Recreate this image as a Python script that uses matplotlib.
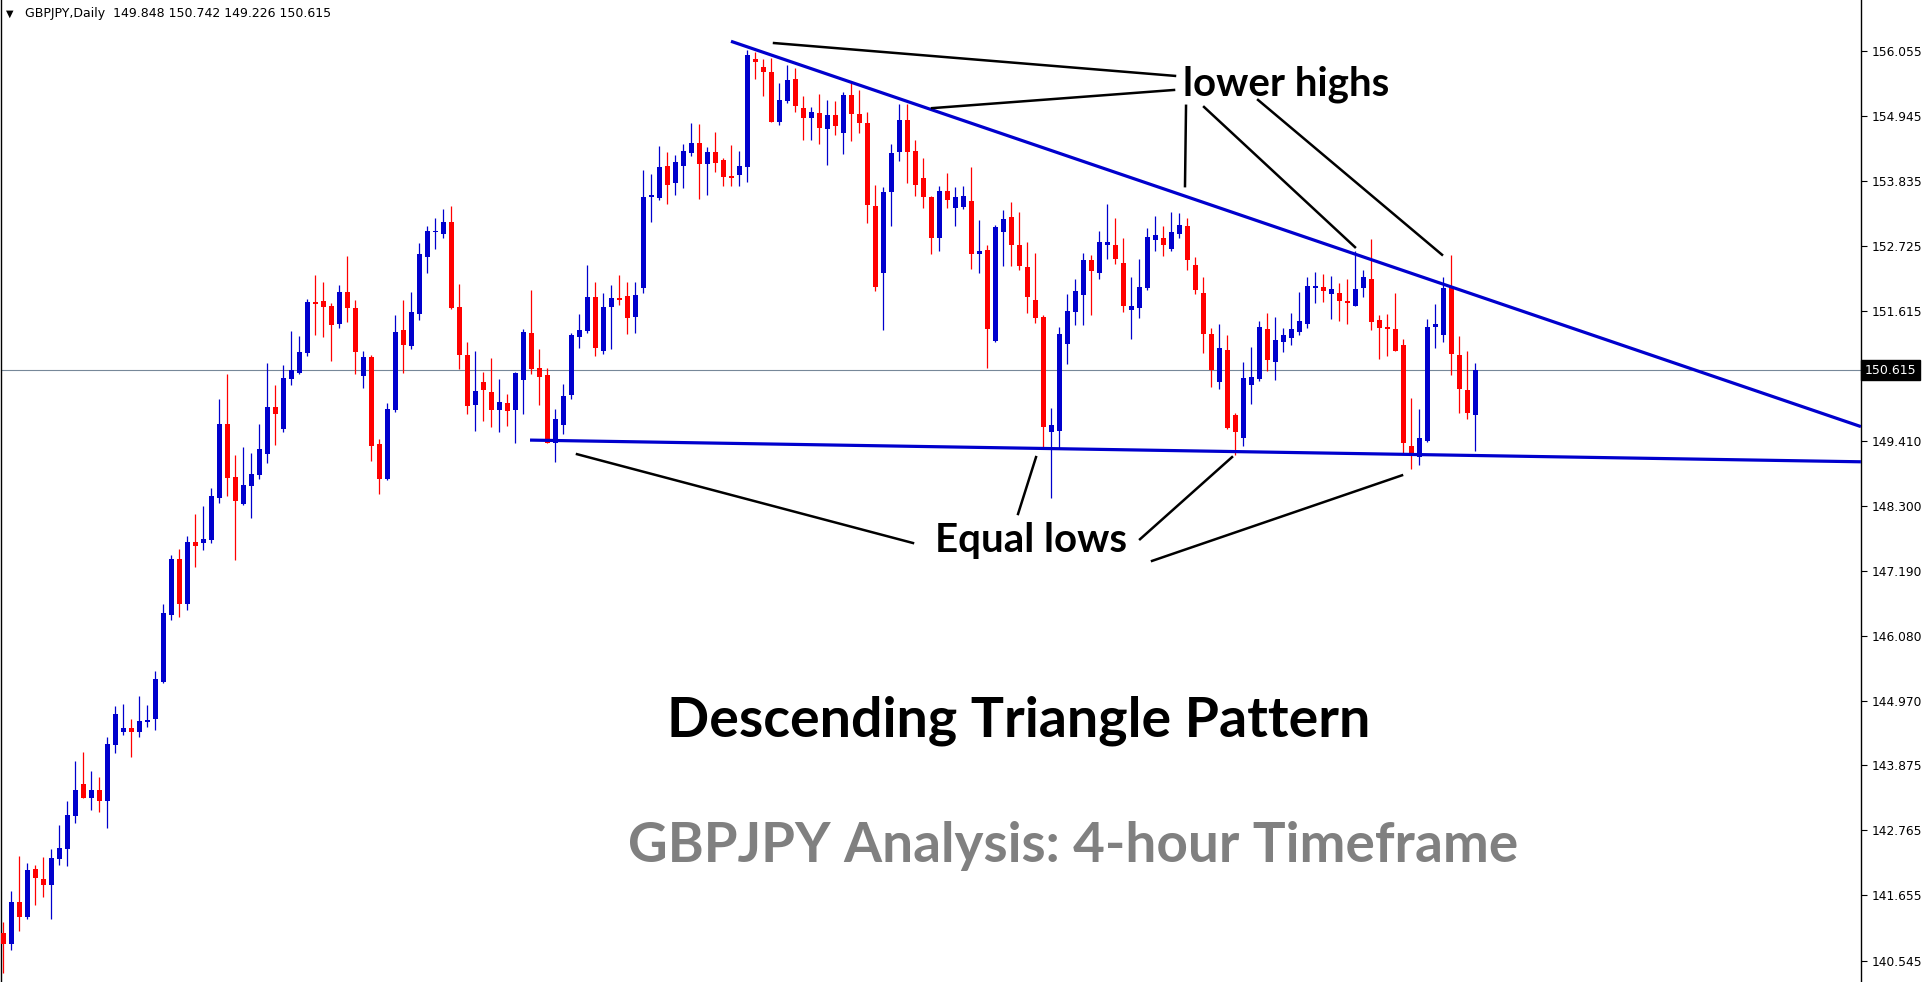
import matplotlib

matplotlib.use("Agg")

import matplotlib.pyplot as plt
import matplotlib.transforms as mtransforms
import numpy as np

# GBPJPY daily candles (oldest first)
opens = [
    141.01, 140.83, 141.54, 141.29, 142.10, 141.93, 141.84, 142.28, 142.44, 143.01,
    143.55, 143.32, 143.45, 143.27, 144.22, 144.45, 144.51, 144.45, 144.62, 144.67,
    145.29, 146.44, 147.39, 146.63, 147.68, 147.66, 147.72, 148.44, 149.69, 148.79,
    148.33, 148.64, 148.82, 149.18, 149.98, 149.61, 150.46, 150.56, 150.90, 151.78,
    151.79, 151.71, 151.40, 151.95, 151.67, 150.51, 150.84, 149.35, 148.76, 149.93,
    151.30, 151.02, 151.57, 152.54, 152.97, 152.93, 153.14, 151.69, 150.87, 150.02,
    150.41, 150.24, 149.93, 150.05, 149.93, 150.44, 151.24, 150.65, 150.53, 149.37,
    149.68, 150.19, 151.18, 151.28, 151.86, 150.94, 151.69, 151.84, 151.88, 151.52,
    152.01, 153.57, 153.55, 154.09, 153.80, 154.09, 154.31, 154.49, 154.13, 154.33,
    154.20, 153.92, 153.94, 154.08, 155.92, 155.78, 155.70, 154.84, 155.20, 155.58,
    155.08, 154.91, 154.99, 154.72, 154.96, 154.66, 155.30, 154.98, 154.83, 153.41,
    152.27, 153.65, 154.33, 154.88, 154.35, 153.89, 153.565, 152.87, 153.67, 153.38,
    153.39, 153.50, 152.59, 152.66, 151.11, 152.97, 153.22, 152.75, 152.37, 151.81,
    151.52, 149.55, 149.58, 151.06, 151.60, 151.89, 152.49, 152.27, 152.74, 152.75,
    152.44, 151.64, 151.68, 152.02, 152.84, 152.87, 152.67, 152.94, 153.07, 152.41,
    151.93, 151.23, 150.41, 150.96, 149.85, 149.46, 150.36, 150.46, 151.31, 150.75,
    151.09, 151.16, 151.26, 151.40, 152.01, 152.03, 151.91, 151.93, 151.79, 151.71,
    152.01, 152.17, 151.47, 151.35, 151.31, 151.04, 149.32, 149.13, 149.41, 151.34,
    151.21, 152.03, 150.87, 150.27, 149.848,
]
highs = [
    141.20, 141.73, 142.32, 142.21, 142.18, 142.31, 142.44, 142.85, 143.26, 143.95,
    144.10, 143.78, 143.67, 144.35, 144.89, 144.92, 144.66, 145.05, 144.90, 145.48,
    146.63, 147.46, 147.56, 147.79, 148.16, 148.30, 148.61, 150.12, 150.55, 149.17,
    149.30, 149.20, 149.70, 150.74, 150.36, 150.70, 151.28, 151.19, 151.83, 152.24,
    152.12, 151.76, 152.06, 152.56, 151.81, 150.94, 150.87, 149.44, 150.05, 151.55,
    151.81, 151.95, 152.78, 153.07, 153.21, 153.36, 153.41, 152.08, 151.09, 150.94,
    150.58, 150.82, 150.46, 150.21, 150.58, 151.31, 151.98, 150.97, 150.65, 149.95,
    150.38, 151.25, 151.57, 152.41, 152.12, 151.93, 152.06, 152.24, 152.12, 152.12,
    154.03, 153.96, 154.44, 154.33, 154.28, 154.47, 154.83, 154.81, 154.42, 154.67,
    154.23, 154.45, 154.35, 156.07, 156.04, 155.92, 155.93, 155.51, 155.82, 155.76,
    155.29, 155.10, 155.32, 155.22, 155.20, 155.36, 155.51, 155.39, 155.01, 153.77,
    153.73, 154.47, 155.15, 155.15, 154.54, 154.23, 153.58, 153.75, 153.97, 153.74,
    153.75, 154.08, 153.17, 152.75, 153.09, 153.34, 153.48, 153.31, 152.80, 152.61,
    151.55, 149.97, 151.35, 151.91, 152.17, 152.61, 152.58, 152.99, 153.45, 153.21,
    152.87, 152.20, 152.51, 153.04, 153.24, 153.07, 153.31, 153.29, 153.21, 152.54,
    152.20, 151.33, 151.40, 151.21, 149.88, 150.75, 151.01, 151.45, 151.59, 151.52,
    151.33, 151.59, 151.95, 152.20, 152.29, 152.25, 152.22, 152.10, 152.17, 152.64,
    152.32, 152.85, 151.55, 151.57, 151.93, 151.14, 150.14, 149.95, 151.49, 151.74,
    152.20, 152.58, 151.20, 150.94, 150.742,
]
lows = [
    140.33, 140.72, 141.05, 141.26, 141.50, 141.63, 141.26, 142.18, 142.16, 142.89,
    143.31, 143.12, 143.08, 142.81, 144.09, 144.39, 144.02, 144.35, 144.52, 144.48,
    145.28, 146.36, 146.41, 146.53, 147.26, 147.54, 147.66, 148.34, 148.47, 147.38,
    148.31, 148.10, 148.76, 149.03, 149.34, 149.56, 150.36, 150.55, 150.85, 151.21,
    151.18, 150.77, 151.33, 151.43, 150.55, 150.31, 149.06, 148.50, 148.74, 149.90,
    150.56, 150.97, 151.47, 152.27, 152.68, 152.87, 151.66, 150.63, 149.87, 149.58,
    149.75, 149.64, 149.56, 149.66, 149.37, 149.87, 150.55, 150.02, 149.37, 149.05,
    149.52, 150.12, 150.99, 151.25, 150.86, 150.89, 150.97, 151.72, 151.23, 151.25,
    151.93, 153.14, 153.51, 153.45, 153.60, 153.72, 154.26, 153.53, 153.60, 153.99,
    153.75, 153.75, 153.75, 153.82, 155.58, 155.29, 154.84, 154.79, 155.17, 155.01,
    154.54, 154.54, 154.47, 154.11, 154.62, 154.30, 154.52, 154.66, 153.12, 151.96,
    151.30, 153.07, 154.18, 153.80, 153.58, 153.38, 152.59, 152.64, 153.38, 153.07,
    153.36, 152.34, 152.27, 150.65, 151.09, 152.39, 152.39, 152.32, 151.59, 151.41,
    149.29, 148.44, 149.29, 150.72, 151.39, 151.39, 151.56, 152.17, 152.50, 152.43,
    151.61, 151.15, 151.51, 151.98, 152.65, 152.56, 152.64, 152.86, 152.32, 151.91,
    150.91, 150.33, 150.29, 149.61, 149.17, 149.32, 150.04, 150.43, 150.60, 150.45,
    150.92, 151.04, 151.21, 151.33, 151.76, 151.78, 151.49, 151.45, 151.40, 151.71,
    151.86, 151.30, 150.80, 150.86, 150.94, 149.18, 148.93, 149.00, 149.39, 150.99,
    151.09, 150.53, 149.88, 149.78, 149.226,
]
closes = [
    140.83, 141.54, 141.29, 142.09, 141.96, 141.84, 142.29, 142.46, 143.03, 143.45,
    143.32, 143.45, 143.27, 144.24, 144.75, 144.51, 144.45, 144.63, 144.65, 145.34,
    146.47, 147.39, 146.63, 147.68, 147.62, 147.73, 148.47, 149.69, 148.78, 148.39,
    148.66, 148.84, 149.27, 149.98, 149.87, 150.48, 150.62, 150.92, 151.78, 151.74,
    151.69, 151.38, 151.95, 151.67, 150.92, 150.84, 149.32, 148.76, 149.95, 151.26,
    151.04, 151.60, 152.59, 152.99, 152.99, 153.14, 151.67, 150.87, 150.00, 150.26,
    150.28, 149.93, 150.07, 149.92, 150.56, 151.26, 150.63, 150.50, 149.37, 149.78,
    150.17, 151.21, 151.30, 151.86, 150.99, 151.69, 151.84, 151.81, 151.50, 151.90,
    153.57, 153.60, 154.08, 153.77, 154.16, 154.35, 154.49, 154.13, 154.33, 154.15,
    153.91, 153.89, 154.09, 155.99, 155.87, 155.70, 154.84, 155.22, 155.56, 155.12,
    154.91, 155.01, 154.74, 154.96, 154.78, 155.30, 154.98, 154.83, 153.43, 152.03,
    153.65, 154.32, 154.88, 154.33, 153.77, 153.565, 152.87, 153.67, 153.51, 153.565,
    153.58, 152.59, 152.64, 151.31, 153.05, 153.19, 152.75, 152.39, 151.86, 151.51,
    149.65, 149.68, 151.23, 151.62, 151.96, 152.49, 152.30, 152.80, 152.80, 152.50,
    151.71, 151.71, 152.03, 152.88, 152.92, 152.74, 152.97, 153.09, 152.49, 151.98,
    151.23, 150.62, 150.99, 149.63, 149.56, 150.48, 150.50, 151.35, 150.79, 151.13,
    151.21, 151.31, 151.45, 152.05, 152.05, 151.96, 152.00, 151.79, 151.76, 152.00,
    152.20, 151.43, 151.33, 151.31, 150.94, 149.37, 149.18, 149.46, 151.35, 151.40,
    152.01, 150.89, 150.29, 149.88, 150.615,
]

price_ticks = [156.055, 154.945, 153.835, 152.725, 151.615, 150.505, 149.410,
               148.300, 147.190, 146.080, 144.970, 143.875, 142.765, 141.655, 140.545]
last_price = 150.615

# trend lines of the triangle: (bar index, price) end points
resistance_x = [90.96, 232.2]
resistance_y = [156.22, 149.65]
support_x = [65.84, 232.2]
support_y = [149.42, 149.05]

# pointer lines from the labels: (x0, y0, x1, y1) in bar index / price
high_pointers = [
    (146.46, 155.63, 96.34, 156.19),
    (146.34, 155.39, 116.09, 155.08),
    (147.84, 155.12, 147.71, 153.75),
    (150.09, 155.10, 168.96, 152.71),
    (156.84, 155.22, 179.84, 152.58),
]
low_pointers = [
    (113.71, 147.665, 71.71, 149.18),
    (126.84, 148.16, 129.09, 149.13),
    (142.09, 147.73, 153.59, 149.13),
    (143.59, 147.36, 174.84, 148.82),
]

BULL = "#0000cd"
BEAR = "#ff0000"
W, H = 1932, 982

fig = plt.figure(figsize=(W / 100, H / 100), dpi=100)
ax = fig.add_axes([1 / W, 0, 1860 / W, 1])

o = np.array(opens)
h = np.array(highs)
lo = np.array(lows)
c = np.array(closes)
idx = np.arange(len(o))
colors = np.where(c >= o, BULL, BEAR)

ax.axhline(last_price, color="#778899", lw=0.8, zorder=1)

ax.vlines(idx, lo, h, colors=colors, linewidth=0.9, zorder=2)
body_low = np.minimum(o, c)
body_h = np.maximum(np.abs(c - o), 0.02)
ax.bar(idx, body_h, bottom=body_low, width=0.63, color=colors, linewidth=0, zorder=3)

ax.plot(resistance_x, resistance_y, color=BULL, lw=2.3, zorder=4, solid_capstyle="butt")
ax.plot(support_x, support_y, color=BULL, lw=2.3, zorder=4, solid_capstyle="butt")

for x0, y0, x1, y1 in high_pointers + low_pointers:
    ax.plot([x0, x1], [y0, y1], color="black", lw=1.8, zorder=5)

ax.text(160.35, 155.30, "lower highs", fontsize=29, fontweight="bold",
        family="Lato", ha="center", va="baseline", zorder=6)
ax.text(128.4, 147.51, "Equal lows", fontsize=29, fontweight="bold",
        family="Lato", ha="center", va="baseline", zorder=6)
ax.text(126.9, 144.36, "Descending Triangle Pattern", fontsize=40, fontweight="bold",
        family="Lato", ha="center", va="baseline", zorder=6)
ax.text(133.7, 142.23, "GBPJPY Analysis: 4-hour Timeframe", fontsize=39.5,
        fontweight="bold", family="Lato", color="#808080", ha="center",
        va="baseline", zorder=6)

ax.set_xlim(-0.2875, 232.21)
ax.set_ylim(140.18, 156.924)

ax.yaxis.tick_right()
ax.set_yticks(price_ticks)
ax.set_yticklabels([f"{p:.3f}" for p in price_ticks])
ax.tick_params(axis="y", direction="out", length=4, width=0.8, labelsize=8.8, pad=4)
ax.set_xticks([])
for side in ("top", "bottom"):
    ax.spines[side].set_visible(False)
for side in ("left", "right"):
    ax.spines[side].set_linewidth(1.0)
    ax.spines[side].set_color("black")

trans = mtransforms.blended_transform_factory(ax.transAxes, ax.transData)
ax.text(1.002, last_price, f"{last_price:.3f}", transform=trans, ha="left", va="center",
        color="white", fontsize=9, zorder=10, clip_on=False,
        bbox=dict(boxstyle="square,pad=0.3", fc="black", ec="black"))

# header line in the top-left corner
fig.text(6 / W, 1 - 14 / H, "\u25bc", fontsize=7, va="center", ha="left")
fig.text(25 / W, 1 - 14 / H,
         f"GBPJPY,Daily  {opens[-1]:.3f} {highs[-1]:.3f} {lows[-1]:.3f} {closes[-1]:.3f}",
         fontsize=9, va="center", ha="left")

fig.savefig("out.png", dpi=100)
plt.close(fig)
